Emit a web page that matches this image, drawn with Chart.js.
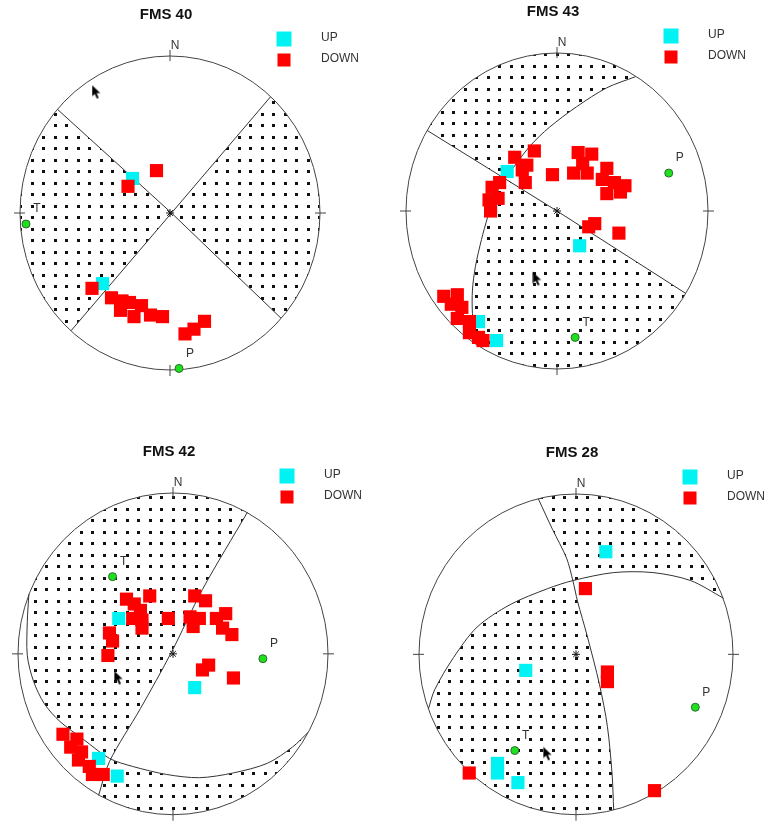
<!DOCTYPE html>
<html>
<head>
<meta charset="utf-8">
<title>FMS focal mechanisms</title>
<script src="https://cdn.jsdelivr.net/npm/chart.js@4.4.1/dist/chart.umd.min.js"></script>
<style>
  body { margin: 0; background: #fff; }
  #wrap { position: relative; width: 767px; height: 824px; overflow: hidden; }
  #wrap canvas { position: absolute; }
</style>
</head>
<body>
<div id="wrap">
  <canvas id="c40"></canvas>
  <canvas id="c43"></canvas>
  <canvas id="c42"></canvas>
  <canvas id="c28"></canvas>
</div>
<script>
// values are stereonet coords, x east / y north, unit circle = primitive
const titles = ['FMS 40', 'FMS 43', 'FMS 42', 'FMS 28'];
const legendLabels = ['UP', 'DOWN'];
const ptLabels = ['T', 'P'];
const compassLabels = ['N'];
const centre = [[0, 0]];

// FMS 40
const up40 = [[-0.25, 0.22], [-0.45, -0.45]];
const down40 = [[-0.09, 0.27], [-0.28, 0.17], [-0.52, -0.48], [-0.39, -0.54], [-0.32, -0.56], [-0.27, -0.57],
  [-0.33, -0.62], [-0.19, -0.59], [-0.24, -0.66], [-0.13, -0.65], [-0.05, -0.66], [0.23, -0.69], [0.16, -0.74], [0.10, -0.77]];
const pt40 = [[-0.96, -0.07], [0.06, -0.99]];
const plane40a = [[-0.75, 0.66], [0.01, 0.0], [0.74, -0.67]];
const plane40b = [[0.67, 0.74], [0.01, 0.0], [-0.66, -0.75]];
const cursor40 = [[-0.49, 0.77]];

// FMS 43
const up43 = [[-0.33, 0.25], [0.15, -0.22], [-0.52, -0.70], [-0.40, -0.82]];
const down43 = [[-0.15, 0.38], [-0.28, 0.34], [-0.20, 0.29], [-0.23, 0.26], [-0.21, 0.18], [-0.38, 0.18], [-0.43, 0.15],
  [-0.39, 0.08], [-0.45, 0.07], [-0.44, 0.00], [-0.03, 0.23], [0.14, 0.37], [0.23, 0.36], [0.17, 0.30], [0.11, 0.24],
  [0.20, 0.24], [0.33, 0.27], [0.30, 0.20], [0.38, 0.18], [0.45, 0.16], [0.33, 0.11], [0.42, 0.12], [0.21, -0.10],
  [0.25, -0.08], [0.41, -0.14], [-0.75, -0.54], [-0.66, -0.53], [-0.70, -0.59], [-0.63, -0.61], [-0.66, -0.68],
  [-0.58, -0.70], [-0.58, -0.77], [-0.52, -0.80], [-0.49, -0.82]];
const pt43 = [[0.12, -0.80], [0.74, 0.24]];
const plane43a = [[-0.86, 0.51], [0, 0], [0.85, -0.52]];
const plane43b = [[0.52, 0.85], [0.33, 0.78], [0.13, 0.66], [-0.05, 0.53], [-0.18, 0.41], [-0.33, 0.22], [-0.42, 0.09],
  [-0.46, -0.04], [-0.50, -0.18], [-0.54, -0.35], [-0.56, -0.50], [-0.56, -0.65], [-0.54, -0.84]];
const cursor43 = [[-0.13, -0.43]];

// FMS 42
const up42 = [[-0.35, 0.22], [0.14, -0.21], [-0.48, -0.65], [-0.36, -0.76]];
const down42 = [[-0.30, 0.34], [-0.25, 0.31], [-0.15, 0.36], [-0.21, 0.27], [-0.26, 0.22], [-0.20, 0.21], [-0.20, 0.16],
  [-0.41, 0.13], [-0.39, 0.08], [-0.42, -0.01], [-0.03, 0.22], [0.14, 0.36], [0.21, 0.33], [0.11, 0.23], [0.17, 0.22],
  [0.13, 0.17], [0.28, 0.22], [0.34, 0.25], [0.32, 0.16], [0.38, 0.12], [0.23, -0.07], [0.19, -0.10], [0.39, -0.15],
  [-0.71, -0.50], [-0.62, -0.53], [-0.66, -0.58], [-0.59, -0.61], [-0.61, -0.66], [-0.54, -0.70], [-0.52, -0.75], [-0.45, -0.75]];
const pt42 = [[-0.39, 0.48], [0.58, -0.03]];
const plane42a = [[0.48, 0.88], [0.19, 0.40], [-0.01, 0.01], [-0.21, -0.34], [-0.41, -0.67], [-0.48, -0.88]];
const plane42b = [[-0.93, 0.37], [-0.94, 0.20], [-0.94, -0.01], [-0.90, -0.17], [-0.83, -0.31], [-0.73, -0.42],
  [-0.58, -0.53], [-0.41, -0.65], [-0.26, -0.70], [-0.04, -0.75], [0.17, -0.77], [0.39, -0.74], [0.61, -0.68],
  [0.77, -0.58], [0.87, -0.49]];
const cursor42 = [[-0.35, -0.15]];

// FMS 28
const up28 = [[0.19, 0.64], [-0.32, -0.10], [-0.50, -0.68], [-0.50, -0.74], [-0.37, -0.80]];
const down28 = [[0.06, 0.41], [0.20, -0.11], [0.20, -0.17], [-0.68, -0.74], [0.50, -0.85]];
const pt28 = [[-0.39, -0.60], [0.76, -0.33]];
const plane28a = [[-0.24, 0.97], [-0.15, 0.78], [-0.06, 0.60], [-0.02, 0.46], [0.01, 0.33], [0.07, 0.12],
  [0.15, -0.19], [0.20, -0.45], [0.23, -0.75], [0.24, -0.97]];
const plane28b = [[-0.94, -0.34], [-0.90, -0.22], [-0.78, -0.02], [-0.63, 0.17], [-0.42, 0.31], [-0.18, 0.41],
  [-0.02, 0.46], [0.24, 0.51], [0.49, 0.51], [0.73, 0.46], [0.94, 0.35]];
const cursor28 = [[-0.18, -0.62]];

// page layout: canvas box and primitive circle (px), which sides of the planes get stippled
const panels = [
  { id: 'c40', box: [0, 0, 383, 412], cx: 170, cy: 213, rx: 150, ry: 157,
    up: up40, down: down40, pt: pt40, planes: [plane40a, plane40b], cursor: cursor40,
    shade: [[[0, 'cw'], [1, 'cw']], [[0, 'ccw'], [1, 'ccw']]] },
  { id: 'c43', box: [383, 0, 384, 412], cx: 557, cy: 211, rx: 151, ry: 158,
    up: up43, down: down43, pt: pt43, planes: [plane43a, plane43b], cursor: cursor43,
    shade: [[[0, 'ccw'], [1, 'cw']], [[0, 'cw'], [1, 'ccw']]] },
  { id: 'c42', box: [0, 412, 383, 412], cx: 173, cy: 656, rx: 155, ry: 163,
    up: up42, down: down42, pt: pt42, planes: [plane42a, plane42b], cursor: cursor42,
    shade: [[[0, 'cw'], [1, 'ccw']], [[0, 'ccw'], [1, 'cw']]] },
  { id: 'c28', box: [383, 412, 384, 412], cx: 576, cy: 657, rx: 157, ry: 163,
    up: up28, down: down28, pt: pt28, planes: [plane28a, plane28b], cursor: cursor28,
    shade: [[[0, 'ccw'], [1, 'ccw']], [[0, 'cw'], [1, 'cw']]] }
];

const UP_COLOR = '#00f2f2';
const DOWN_COLOR = '#ff0000';
const PLANE_START = 5;
const TAU = Math.PI * 2;

const toXY = a => a.map(p => ({ x: p[0], y: p[1] }));
const mod = v => ((v % TAU) + TAU) % TAU;

// stipple tile, 11.5px average spacing
const dotTile = document.createElement('canvas');
dotTile.width = 23; dotTile.height = 23;
(function () {
  const g = dotTile.getContext('2d');
  g.fillStyle = '#111';
  [0, 12].forEach(a => [0, 12].forEach(b => g.fillRect(a, b, 3, 3)));
})();

// mouse cursor glyph
const arrowImg = document.createElement('canvas');
arrowImg.width = 10; arrowImg.height = 15;
(function () {
  const g = arrowImg.getContext('2d');
  g.fillStyle = '#000';
  g.beginPath();
  g.moveTo(0.5, 0.5); g.lineTo(0.5, 12); g.lineTo(3.2, 9.3); g.lineTo(5.4, 14); g.lineTo(7.2, 13.2);
  g.lineTo(5.1, 8.6); g.lineTo(8.8, 8.6); g.closePath();
  g.fill();
})();

// one side of a nodal plane: the plane curve closed round the outside of the net
function sidePath(chart, dsIndex, dir) {
  const ctx = chart.ctx;
  const xs = chart.scales.x, ys = chart.scales.y;
  const px = (x, y) => [xs.getPixelForValue(x), ys.getPixelForValue(y)];
  const meta = chart.getDatasetMeta(dsIndex);
  const pts = chart.data.datasets[dsIndex].data;
  const a = pts[0], b = pts[pts.length - 1];
  const line = meta.dataset;
  ctx.beginPath();
  ctx.moveTo(...px(a.x, a.y));
  if (line && typeof line.path === 'function') {
    line.updateControlPoints(chart.chartArea, 'x');
    line.path(ctx);
  } else {
    pts.forEach(p => ctx.lineTo(...px(p.x, p.y)));
  }
  const angA = Math.atan2(a.y, a.x), angB = Math.atan2(b.y, b.x);
  const sweep = dir === 'ccw' ? mod(angA - angB) : mod(angB - angA);
  const corners = [];
  for (let k = 0; k < 4; k++) {
    const c = Math.PI / 4 + k * Math.PI / 2;
    const d = dir === 'ccw' ? mod(c - angB) : mod(angB - c);
    if (d < sweep) corners.push([d, c]);
  }
  corners.sort((m, n) => m[0] - n[0]);
  ctx.lineTo(...px(b.x * 3, b.y * 3));
  corners.forEach(([, c]) => ctx.lineTo(...px(4 * Math.sign(Math.cos(c)), 4 * Math.sign(Math.sin(c)))));
  ctx.lineTo(...px(a.x * 3, a.y * 3));
  ctx.closePath();
}

function netPlugin(panel, title) {
  const geom = chart => {
    const xs = chart.scales.x, ys = chart.scales.y;
    const cx = xs.getPixelForValue(0), cy = ys.getPixelForValue(0);
    return { cx, cy, rx: xs.getPixelForValue(1) - cx, ry: cy - ys.getPixelForValue(1) };
  };
  return {
    id: 'net',
    beforeDatasetsDraw(chart) {
      const { ctx, chartArea: ca } = chart;
      const { cx, cy, rx, ry } = geom(chart);
      const pat = ctx.createPattern(dotTile, 'repeat');
      pat.setTransform(new DOMMatrix([1, 0, 0, 1, Math.round(cx) + 10, Math.round(cy) + 3]));
      panel.shade.forEach(region => {
        ctx.save();
        ctx.beginPath();
        ctx.ellipse(cx, cy, rx, ry, 0, 0, TAU);
        ctx.clip();
        region.forEach(([pi, dir]) => { sidePath(chart, PLANE_START + pi, dir); ctx.clip(); });
        ctx.fillStyle = pat;
        ctx.fillRect(ca.left - 2, ca.top - 2, ca.width + 4, ca.height + 4);
        ctx.restore();
      });
      // primitive circle and compass ticks
      ctx.save();
      ctx.strokeStyle = '#444';
      ctx.lineWidth = 1;
      ctx.beginPath();
      ctx.ellipse(cx, cy, rx, ry, 0, 0, TAU);
      ctx.stroke();
      ctx.beginPath();
      ctx.moveTo(cx, cy - ry - 6); ctx.lineTo(cx, cy - ry + 5);
      ctx.moveTo(cx, cy + ry - 5); ctx.lineTo(cx, cy + ry + 6);
      ctx.moveTo(cx - rx - 6, cy); ctx.lineTo(cx - rx + 5, cy);
      ctx.moveTo(cx + rx - 5, cy); ctx.lineTo(cx + rx + 6, cy);
      ctx.stroke();
      ctx.restore();
    },
    afterDatasetsDraw(chart) {
      const ctx = chart.ctx;
      const { cx, cy, ry } = geom(chart);
      const top = cy - ry;
      ctx.save();
      ctx.textBaseline = 'middle';
      ctx.textAlign = 'center';
      ctx.fillStyle = '#111';
      ctx.font = 'bold 15px "Liberation Sans", Arial, sans-serif';
      ctx.fillText(title, cx - 4, top - 41);
      ctx.font = '12px "Liberation Sans", Arial, sans-serif';
      ctx.fillStyle = '#333';
      ctx.fillText(compassLabels[0], cx + 5, top - 10);
      // legend
      ctx.fillStyle = UP_COLOR;
      ctx.fillRect(cx + 114 - 7.5, top - 17 - 7.5, 15, 15);
      ctx.fillStyle = DOWN_COLOR;
      ctx.fillRect(cx + 114 - 6.5, top + 4 - 6.5, 13, 13);
      ctx.fillStyle = '#333';
      ctx.textAlign = 'left';
      ctx.fillText(legendLabels[0], cx + 151, top - 18);
      ctx.fillText(legendLabels[1], cx + 151, top + 3);
      // T / P labels
      ctx.textAlign = 'center';
      chart.getDatasetMeta(0).data.forEach((el, i) => ctx.fillText(ptLabels[i], el.x + 11, el.y - 15));
      ctx.restore();
    }
  };
}

panels.forEach((p, n) => {
  const cv = document.getElementById(p.id);
  const [x0, y0, w, h] = p.box;
  cv.width = w; cv.height = h;
  cv.style.left = x0 + 'px';
  cv.style.top = y0 + 'px';
  const common = { clip: false };
  new Chart(cv, {
    type: 'scatter',
    data: {
      datasets: [
        { ...common, label: 'T / P', data: toXY(p.pt), pointStyle: 'circle', pointRadius: 4,
          backgroundColor: '#1fe01f', borderColor: '#2b6b2b', borderWidth: 1 },
        { ...common, label: legendLabels[1], data: toXY(p.down), pointStyle: 'rect', pointRadius: 9.3,
          backgroundColor: DOWN_COLOR, borderWidth: 0 },
        { ...common, label: legendLabels[0], data: toXY(p.up), pointStyle: 'rect', pointRadius: 9.3,
          backgroundColor: UP_COLOR, borderWidth: 0 },
        { ...common, label: 'centre', data: toXY(centre), pointStyle: 'star', pointRadius: 4,
          borderColor: '#111', borderWidth: 1 },
        { ...common, label: 'cursor', data: toXY(p.cursor), pointStyle: arrowImg, pointRadius: 7 },
        ...p.planes.map((pl, i) => ({
          ...common, type: 'line', label: 'plane ' + (i + 1), data: toXY(pl),
          borderColor: '#333', borderWidth: 1, pointRadius: 0, fill: false,
          tension: pl.length > 3 ? 0.3 : 0
        }))
      ]
    },
    options: {
      responsive: false,
      animation: false,
      events: [],
      layout: {
        padding: {
          left: p.cx - p.rx - x0,
          top: p.cy - p.ry - y0,
          right: x0 + w - (p.cx + p.rx),
          bottom: y0 + h - (p.cy + p.ry)
        }
      },
      scales: {
        x: { type: 'linear', min: -1, max: 1, display: false },
        y: { type: 'linear', min: -1, max: 1, display: false }
      },
      plugins: {
        legend: { display: false },
        tooltip: { enabled: false },
        title: { display: false }
      }
    },
    plugins: [netPlugin(p, titles[n])]
  });
});
</script>
</body>
</html>
